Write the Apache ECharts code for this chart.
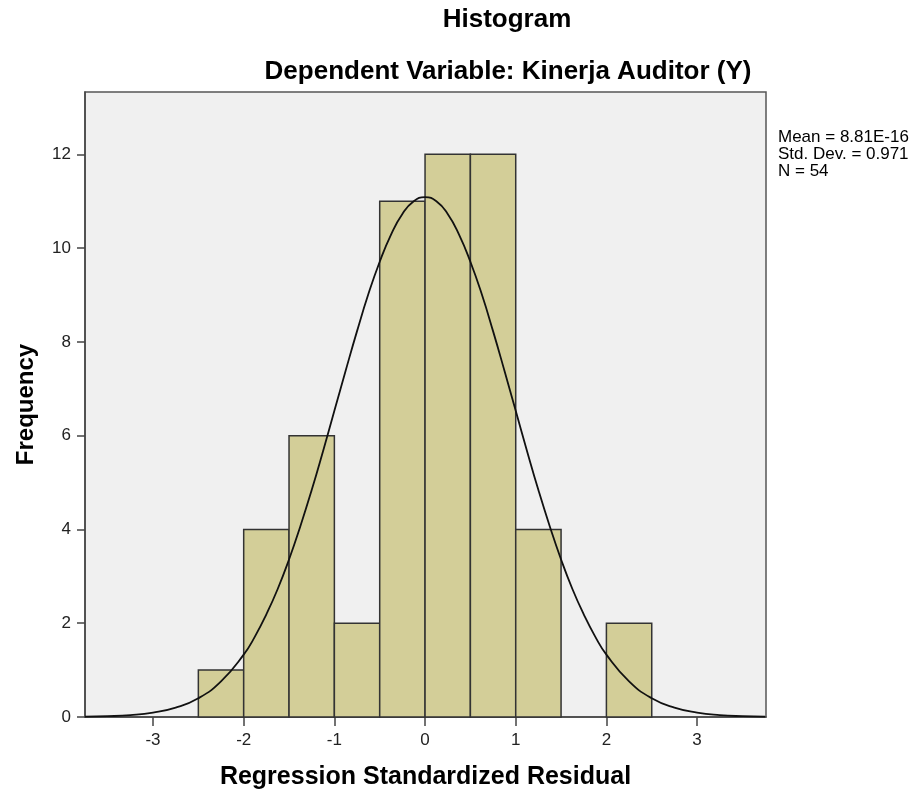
<!DOCTYPE html>
<html>
<head>
<meta charset="utf-8">
<script src="https://cdn.jsdelivr.net/npm/echarts@6/dist/echarts.min.js"></script>
<style>html,body{margin:0;padding:0;background:#fff;}#c{width:919px;height:796px;}</style>
</head>
<body>
<div id="c"></div>
<script>
// Histogram bins (lower edge, width 0.5) and counts
var binStarts = [-2.5, -2.0, -1.5, -1.0, -0.5, 0.0, 0.5, 1.0, 1.5, 2.0];
var binCounts = [1, 4, 6, 2, 11, 12, 12, 4, 0, 2];
var binWidth = 0.5;
// Normal curve points
var curveX = [-3.75,-3.5,-3.25,-3.0,-2.75,-2.5,-2.25,-2.0,-1.875,-1.75,-1.625,-1.5,-1.375,-1.25,-1.125,-1.0,-0.875,-0.75,-0.625,-0.5,-0.375,-0.25,-0.125,0.0,0.125,0.25,0.375,0.5,0.625,0.75,0.875,1.0,1.125,1.25,1.375,1.5,1.625,1.75,1.875,2.0,2.25,2.5,2.75,3.0,3.25,3.5,3.75];
var curveY = [0.006,0.017,0.041,0.094,0.20,0.40,0.76,1.33,1.72,2.19,2.73,3.36,4.07,4.84,5.67,6.53,7.39,8.23,9.02,9.71,10.29,10.73,11.00,11.09,11.00,10.73,10.29,9.71,9.02,8.23,7.39,6.53,5.67,4.84,4.07,3.36,2.73,2.19,1.72,1.33,0.76,0.40,0.20,0.094,0.041,0.017,0.006];
var xTicks = [-3, -2, -1, 0, 1, 2, 3];
var yTicks = [0, 2, 4, 6, 8, 10, 12];
var statsLines = ['Mean = 8.81E-16', 'Std. Dev. = 0.971', 'N = 54'];

var chart = echarts.init(document.getElementById('c'), null, {renderer: 'canvas'});
var FONT = 'Liberation Sans, Arial, sans-serif';

var barData = binStarts.map(function (s, i) { return [s, binCounts[i]]; });
var lineData = curveX.map(function (x, i) { return [x, curveY[i]]; });

var graphics = [
  {type: 'text', x: 507, y: 20, style: {text: 'Histogram', font: 'bold 26px ' + FONT, fill: '#000', align: 'center', verticalAlign: 'middle'}},
  {type: 'text', x: 508, y: 72, style: {text: 'Dependent Variable: Kinerja Auditor (Y)', font: 'bold 26px ' + FONT, fill: '#000', align: 'center', verticalAlign: 'middle'}}
];
statsLines.forEach(function (t, i) {
  graphics.push({type: 'text', x: 778, y: 137 + i * 17, style: {text: t, font: '17px ' + FONT, fill: '#000', align: 'left', verticalAlign: 'middle'}});
});

chart.setOption({
  animation: false,
  backgroundColor: '#fff',
  graphic: graphics,
  grid: {left: 85, top: 92, right: 153, bottom: 79, show: true, backgroundColor: '#f0f0f0', borderColor: '#555', borderWidth: 1.5},
  xAxis: {
    type: 'value', min: -3.75, max: 3.76,
    name: 'Regression Standardized Residual', nameLocation: 'middle', nameGap: 48,
    nameTextStyle: {fontFamily: FONT, fontWeight: 'bold', fontSize: 25, color: '#000'},
    axisLine: {show: true, onZero: false, lineStyle: {color: '#444', width: 1.5}},
    axisTick: {show: true, length: 9, customValues: xTicks, lineStyle: {color: '#444', width: 1.5}},
    axisLabel: {customValues: xTicks, margin: 15, fontFamily: FONT, fontSize: 17, color: '#222'},
    splitLine: {show: false}
  },
  yAxis: {
    type: 'value', min: 0, max: 13.33,
    name: 'Frequency', nameLocation: 'middle', nameGap: 47,
    nameTextStyle: {fontFamily: FONT, fontWeight: 'bold', fontSize: 24, color: '#000'},
    axisLine: {show: true, onZero: false, lineStyle: {color: '#444', width: 1.5}},
    axisTick: {show: true, length: 8, customValues: yTicks, lineStyle: {color: '#444', width: 1.5}},
    axisLabel: {customValues: yTicks, margin: 14, fontFamily: FONT, fontSize: 17, color: '#222'},
    splitLine: {show: false}
  },
  series: [
    {
      type: 'custom',
      data: barData,
      encode: {x: 0, y: 1},
      renderItem: function (params, api) {
        var s = api.value(0), c = api.value(1);
        if (!c) return null;
        var p0 = api.coord([s, c]);
        var p1 = api.coord([s + binWidth, 0]);
        return {
          type: 'rect',
          shape: {x: p0[0], y: p0[1], width: p1[0] - p0[0], height: p1[1] - p0[1]},
          style: {fill: '#d3ce98', stroke: '#333', lineWidth: 1.5}
        };
      },
      z: 2
    },
    {
      type: 'line',
      data: lineData,
      smooth: true,
      showSymbol: false,
      symbol: 'none',
      lineStyle: {color: '#111', width: 1.8},
      z: 3
    }
  ]
});
</script>
</body>
</html>
